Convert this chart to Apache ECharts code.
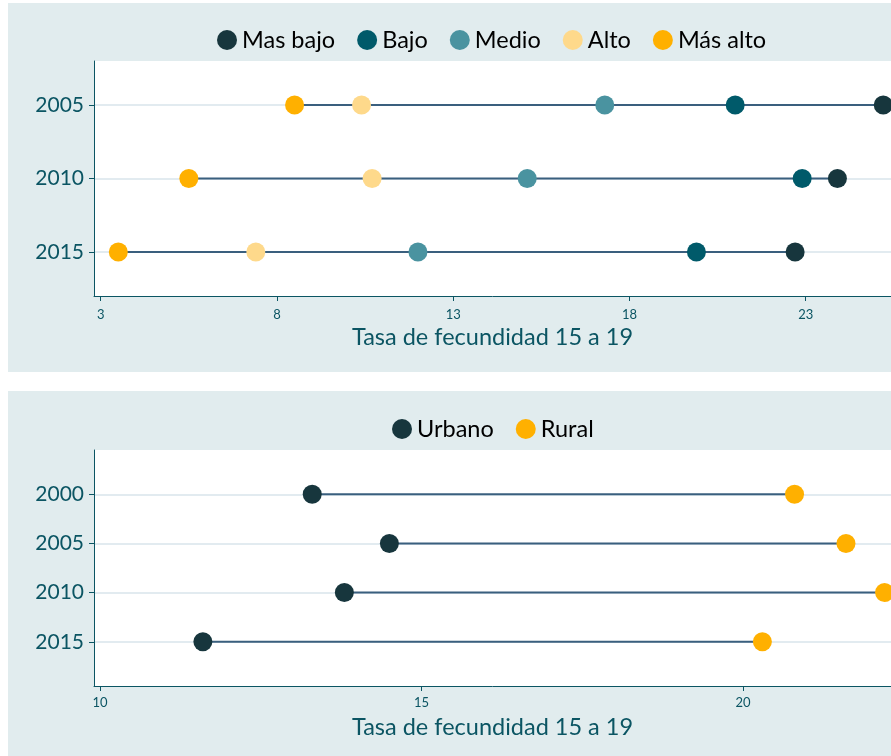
<!DOCTYPE html>
<html><head><meta charset="utf-8">
<script src="https://cdn.jsdelivr.net/npm/echarts@6/dist/echarts.min.js"></script>
<style>html,body{margin:0;padding:0;background:#fff}#c{width:891px;height:756px}</style>
</head><body><div id="c"></div>
<script>
// Panel 1: by quintile
const years1 = [2005, 2010, 2015];
const groups1 = ['Mas bajo', 'Bajo', 'Medio', 'Alto', 'Más alto'];
const masBajo = [25.2, 23.9, 22.7];
const bajo    = [21.0, 22.9, 19.9];
const medio   = [17.3, 15.1, 12.0];
const alto    = [10.4, 10.7, 7.4];
const masAlto = [8.5, 5.5, 3.5];
const ticks1 = [3, 8, 13, 18, 23];

// Panel 2: by area
const years2 = [2000, 2005, 2010, 2015];
const groups2 = ['Urbano', 'Rural'];
const urbano = [13.3, 14.5, 13.8, 11.6];
const rural  = [20.8, 21.6, 22.2, 20.3];
const ticks2 = [10, 15, 20];

const axisTitle = 'Tasa de fecundidad 15 a 19';

const colors1 = ['#17363d', '#005a6a', '#4a93a0', '#fed98b', '#ffb000'];
const colors2 = ['#17363d', '#ffb000'];
const teal = '#0b5563';
const FONT = 'Lato, "Open Sans", sans-serif';

const vals1 = [masBajo, bajo, medio, alto, masAlto];
const vals2 = [urbano, rural];

const series = [];
function addRanges(years, vals, gi) {
  years.forEach((y, i) => {
    const row = vals.map(v => v[i]);
    series.push({
      type: 'line', xAxisIndex: gi, yAxisIndex: gi, silent: true, symbol: 'none',
      lineStyle: {color: '#3a5f7e', width: 2}, z: 2,
      data: [[Math.min(...row), y], [Math.max(...row), y]]
    });
  });
}
addRanges(years1, vals1, 0);
addRanges(years2, vals2, 1);
groups1.forEach((g, k) => series.push({
  type: 'scatter', name: g, xAxisIndex: 0, yAxisIndex: 0, symbolSize: 19, z: 5, clip: false,
  itemStyle: {color: colors1[k], opacity: 1},
  data: years1.map((y, i) => [vals1[k][i], y])
}));
groups2.forEach((g, k) => series.push({
  type: 'scatter', name: g, xAxisIndex: 1, yAxisIndex: 1, symbolSize: 19, z: 5, clip: false,
  itemStyle: {color: colors2[k], opacity: 1},
  data: years2.map((y, i) => [vals2[k][i], y])
}));

function xAxis(gi, min, max, ticks, gap, margin) {
  return {
    type: 'value', gridIndex: gi, min: min, max: max,
    name: axisTitle, nameLocation: 'middle', nameGap: gap,
    nameTextStyle: {color: teal, fontSize: 23.5, fontFamily: FONT},
    axisLine: {show: true, lineStyle: {color: teal, width: 1}},
    axisTick: {show: true, length: 5, lineStyle: {color: teal}, customValues: ticks},
    axisLabel: {color: teal, fontSize: 13, margin: margin, fontFamily: FONT, customValues: ticks},
    splitLine: {show: false}
  };
}
function yAxis(gi, min, max, years) {
  return {
    type: 'value', gridIndex: gi, inverse: true, min: min, max: max,
    axisLine: {show: true, lineStyle: {color: teal, width: 1}},
    axisTick: {show: true, length: 5, lineStyle: {color: teal}, customValues: years},
    axisLabel: {color: teal, fontSize: 21, margin: 10, fontFamily: FONT, customValues: years,
      formatter: v => String(v)},
    splitLine: {show: true, lineStyle: {color: '#e2ebf0', width: 2}}
  };
}

const chart = echarts.init(document.getElementById('c'), null, {renderer: 'canvas'});
chart.setOption({
  animation: false,
  backgroundColor: '#ffffff',
  graphic: [
    {type: 'rect', shape: {x: 8, y: 3, width: 900, height: 369}, style: {fill: '#e1ecee'}, z: -10, silent: true},
    {type: 'rect', shape: {x: 8, y: 391, width: 900, height: 370}, style: {fill: '#e1ecee'}, z: -10, silent: true}
  ],
  legend: [
    {data: groups1, left: 212, top: 23, icon: 'circle', itemWidth: 20, itemHeight: 20, itemGap: 22,
      textStyle: {fontSize: 23.5, color: '#000', fontFamily: FONT}},
    {data: groups2, left: 387, top: 412, icon: 'circle', itemWidth: 20, itemHeight: 20, itemGap: 22,
      textStyle: {fontSize: 23.5, color: '#000', fontFamily: FONT}}
  ],
  grid: [
    {left: 94, right: 0, top: 61, height: 235, backgroundColor: '#fff', show: true, borderWidth: 0},
    {left: 94, right: 0, top: 450, height: 236, backgroundColor: '#fff', show: true, borderWidth: 0}
  ],
  xAxis: [xAxis(0, 2.81, 25.42, ticks1, 29, 12), xAxis(1, 9.907, 22.3, ticks2, 29, 10)],
  yAxis: [yAxis(0, 2002, 2018, years1), yAxis(1, 1995.5, 2019.5, years2)],
  series: series
});
</script></body></html>
